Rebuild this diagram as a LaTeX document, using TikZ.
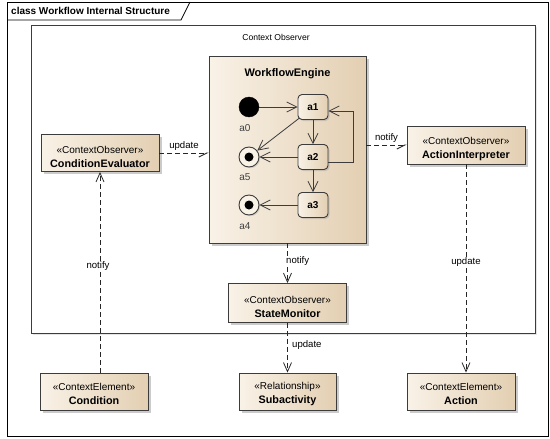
\documentclass[tikz,border=0pt]{standalone}
\usepackage{fontspec}
\setmainfont{Liberation Sans}
\usetikzlibrary{arrows.meta,shadows,calc}

\definecolor{boxlight}{HTML}{F9F2E7}
\definecolor{boxdark}{HTML}{E3CFB2}
\definecolor{edgegrey}{HTML}{3C3C3C}
\definecolor{labelgrey}{HTML}{404040}

% stereotype line of a class box
\newcommand\stereotxt[1]{{\fontsize{10}{11}\selectfont #1}}

\tikzset{
  classbox/.style={draw=edgegrey, line width=0.9pt, left color=boxlight, right color=boxdark,
    drop shadow={shadow xshift=2.5pt, shadow yshift=-2.5pt, fill=black!45, opacity=0.45},
    inner sep=0pt},
  boxtext/.style={inner sep=0pt, align=center, font=\fontsize{10.8}{14}\selectfont},
  ctxbox/.style={draw=edgegrey, line width=0.8pt, fill=white, inner sep=0pt,
    drop shadow={shadow xshift=2pt, shadow yshift=-2pt, fill=black!25, opacity=0.4}},
  statebox/.style={draw=edgegrey, line width=0.9pt, rounded corners=4pt, left color=boxlight, right color=boxdark,
    minimum width=30pt, minimum height=25pt, inner sep=0pt, font=\bfseries\fontsize{10}{11}\selectfont,
    drop shadow={shadow xshift=1.5pt, shadow yshift=-1.5pt, fill=black!40, opacity=0.4}},
  initstate/.style={circle, fill=black, draw=black, minimum size=20pt, inner sep=0pt},
  finalstate/.style={circle, draw=edgegrey, line width=0.9pt, fill=boxlight, minimum size=20pt, inner sep=0pt,
    path picture={\fill[black] (path picture bounding box.center) circle (4.5pt);},
    drop shadow={shadow xshift=1.2pt, shadow yshift=-1.2pt, fill=black!35, opacity=0.4}},
  statelabel/.style={font=\fontsize{10}{11}\selectfont, text=labelgrey, inner sep=0pt},
  conlabel/.style={font=\fontsize{9.6}{10}\selectfont, inner sep=1pt},
  flow/.style={draw=edgegrey, line width=0.8pt, -{Straight Barb[length=10pt,width=10pt,line width=0.8pt]}},
  dep/.style={draw=black!85, line width=0.8pt, dash pattern=on 5pt off 3pt,
    -{Straight Barb[length=9pt,width=8pt,line width=0.8pt]}},
  depharp/.style={draw=black!85, line width=0.8pt, dash pattern=on 5pt off 3pt,
    -{Straight Barb[right,length=8pt,width=8pt,line width=0.8pt]}},
}

\begin{document}
\begin{tikzpicture}[x=1pt,y=-1pt]
\useasboundingbox (0,0) rectangle (550,439);
\fill[white] (0,0) rectangle (550,439);

% diagram frame with its name tab
\draw[line width=0.8pt] (7,2) rectangle (548.5,436);
\draw[line width=0.8pt] (7,20) -- (181,20) -- (190,2);
\node[anchor=west, inner sep=0pt, font=\bfseries\fontsize{10}{11}\selectfont] (title) at (11,11) {class Workflow Internal Structure};

% Context Observer container
\node[ctxbox, minimum width=504pt, minimum height=308pt] (ctx) at (283,179) {};
\node[font=\fontsize{8.6}{10}\selectfont, inner sep=0pt] (ctxname) at (276,37) {Context Observer};

% workflow engine part
\node[classbox, minimum width=157pt, minimum height=187pt] (engine) at (287.5,149.5) {};
\node[font=\bfseries\fontsize{11}{12}\selectfont, inner sep=0pt] (enginename) at (287.5,74) {WorkflowEngine};

% activity states
\node[initstate] (a0) at (249,107) {};
\node[statebox] (a1) at (313,107) {a1};
\node[statebox] (a2) at (313,157) {a2};
\node[statebox] (a3) at (313,205) {a3};
\node[finalstate] (a5) at (249,157) {};
\node[finalstate] (a4) at (249,205) {};
\node[statelabel] (a0lbl) at (245,128) {a0};
\node[statelabel] (a5lbl) at (245,177) {a5};
\node[statelabel] (a4lbl) at (245,226) {a4};

% transitions
\draw[flow] (a0) -- (a1);
\draw[flow] ($(a1.south west)+(2,-2)$) -- (a5);
\draw[flow] (a1) -- (a2);
\draw[flow] (a2) -- (a5);
\draw[flow] (a2) -- (a3);
\draw[flow] (a3) -- (a4);
\draw[flow] ($(a2.east)+(0,5)$) -- ++(25,0) |- ($(a1.east)+(0,4)$);

% observers
\node[classbox, minimum width=118pt, minimum height=37pt] (condeval) at (100,153) {};
\node[boxtext] (condevaltxt) at ($(condeval)+(0,3.5)$) {\stereotxt{«ContextObserver»}\\\textbf{ConditionEvaluator}};
\node[classbox, minimum width=118pt, minimum height=38pt] (actint) at (466,145) {};
\node[boxtext] (actinttxt) at ($(actint)+(0,3.5)$) {\stereotxt{«ContextObserver»}\\\textbf{ActionInterpreter}};
\node[classbox, minimum width=118pt, minimum height=39pt] (statemon) at (287.5,303) {};
\node[boxtext] (statemontxt) at ($(statemon)+(0,3.5)$) {\stereotxt{«ContextObserver»}\\\textbf{StateMonitor}};

% context elements
\node[classbox, minimum width=108pt, minimum height=37pt] (cond) at (94,391.5) {};
\node[boxtext] (condtxt) at ($(cond)+(0,2.5)$) {\stereotxt{«ContextElement»}\\\textbf{Condition}};
\node[classbox, minimum width=97pt, minimum height=37pt] (subact) at (287.5,391.5) {};
\node[boxtext] (subacttxt) at ($(subact)+(0,2.5)$) {\stereotxt{«Relationship»}\\\textbf{Subactivity}};
\node[classbox, minimum width=108pt, minimum height=37pt] (action) at (461,391.5) {};
\node[boxtext] (actiontxt) at ($(action)+(0,2.5)$) {\stereotxt{«ContextElement»}\\\textbf{Action}};

% dependencies
\draw[depharp] (condeval.east) -- (engine.west |- condeval.east)
  node[conlabel, pos=0.5, above=1.5pt] (updlbl1) {update};
\draw[depharp] (engine.east |- actint.west) -- (actint.west)
  node[conlabel, pos=0.5, above=1.5pt] (notlbl1) {notify};
\draw[dep] (engine.south) -- (statemon.north);
\node[conlabel, anchor=west, fill=white] (notlbl2) at (285,261) {notify};
\draw[dep] (statemon.south) -- (subact.north);
\node[conlabel, anchor=west] (updlbl2) at (291,345) {update};
\draw[dep] (condeval.south |- cond.north) -- (condeval.south);
\node[conlabel, fill=white] (notlbl3) at (98,266) {notify};
\draw[dep] (actint.south) -- (actint.south |- action.north);
\node[conlabel, fill=white] (updlbl3) at (466,262) {update};
\end{tikzpicture}
\end{document}
